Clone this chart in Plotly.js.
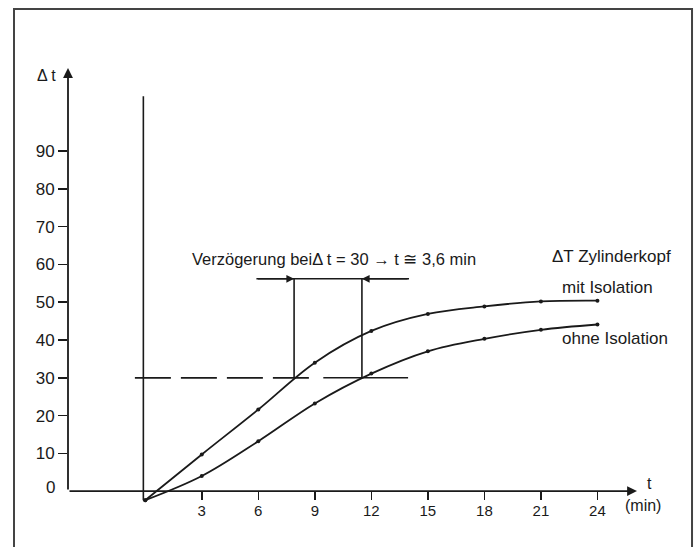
<!DOCTYPE html>
<html>
<head>
<meta charset="utf-8">
<script src="https://cdn.plot.ly/plotly-3.0.1.min.js"></script>
<style>html,body{margin:0;padding:0;background:#fff;}#chart{width:697px;height:547px;}</style>
</head>
<body>
<div id="chart"></div>
<script>
// ---- data ----
const timeMin = [0, 3, 6, 9, 12, 15, 18, 21, 24];
const mitIsolation = [-2.4, 9.7, 21.6, 34.0, 42.4, 46.9, 48.9, 50.2, 50.4];
const ohneIsolation = [-2.4, 4.0, 13.2, 23.2, 31.1, 37.0, 40.3, 42.7, 44.1];

const xTickVals = [3, 6, 9, 12, 15, 18, 21, 24];
const xTickText = ['3', '6', '9', '12', '15', '18', '21', '24'];
const yTickVals = [10, 20, 30, 40, 50, 60, 70, 80, 90];
const yTickText = ['10', '20', '30', '40', '50', '60', '70', '80', '90'];

const startLineT = -0.1;        // vertical reference line at start
const startLineY = [-2.4, 104.5];
const delayLevel = 30;          // Δt = 30
const delayT = [7.9, 11.5];     // crossing times mit / ohne
const delayBarY = 56.2;         // level of the arrow bar
const delayBarT = [5.9, 14.0];
const dashedT = [-0.55, 8.85];
const solidT = [9.45, 13.95];

const xRange = [-4.1, 26.1];
const yRange = [-5, 112];

const ink = '#1a1a1a';
const fam = 'Liberation Sans, Arial, sans-serif';
const font = {family: fam, size: 16, color: ink};

const traces = [
  {x: timeMin, y: mitIsolation, mode: 'lines+markers', line: {color: ink, width: 1.8, shape: 'spline', smoothing: 1},
   marker: {color: ink, size: 4}, name: 'mit Isolation', hoverinfo: 'skip'},
  {x: timeMin, y: ohneIsolation, mode: 'lines+markers', line: {color: ink, width: 1.8, shape: 'spline', smoothing: 1},
   marker: {color: ink, size: 4}, name: 'ohne Isolation', hoverinfo: 'skip'},
  {x: [startLineT, startLineT], y: startLineY, mode: 'lines', line: {color: ink, width: 1.6}, hoverinfo: 'skip'},
  {x: dashedT, y: [delayLevel, delayLevel], mode: 'lines', line: {color: ink, width: 1.8, dash: '36px,10px'}, hoverinfo: 'skip'},
  {x: solidT, y: [delayLevel, delayLevel], mode: 'lines', line: {color: ink, width: 1.6}, hoverinfo: 'skip'},
  {x: [delayT[0], delayT[0]], y: [delayLevel, delayBarY], mode: 'lines', line: {color: ink, width: 1.6}, hoverinfo: 'skip'},
  {x: [delayT[1], delayT[1]], y: [delayLevel, delayBarY], mode: 'lines', line: {color: ink, width: 1.6}, hoverinfo: 'skip'},
  {x: delayBarT, y: [delayBarY, delayBarY], mode: 'lines', line: {color: ink, width: 1.4}, hoverinfo: 'skip'}
];

function arrow(x, y, ax, ay, w) {
  return {x: x, y: y, ax: ax, ay: ay, xref: 'x', yref: 'y', axref: 'x', ayref: 'y', text: '',
          showarrow: true, arrowhead: 2, arrowsize: 1.1, arrowwidth: w, arrowcolor: ink};
}
function label(text, x, y, xanchor, size) {
  return {x: x, y: y, xref: 'x', yref: 'y', text: text, showarrow: false, xanchor: xanchor, yanchor: 'middle',
          font: {family: fam, size: size, color: ink}};
}
function plabel(text, x, y, xanchor, size) {
  return {x: x, y: y, xref: 'paper', yref: 'paper', text: text, showarrow: false, xanchor: xanchor, yanchor: 'middle',
          font: {family: fam, size: size, color: ink}};
}

const annotations = [
  arrow(xRange[1], 0, xRange[0], 0, 1.8),
  arrow(xRange[0], yRange[1], xRange[0], 0, 1.8),
  arrow(delayT[0], delayBarY, delayBarT[0], delayBarY, 1.4),
  arrow(delayT[1], delayBarY, delayBarT[1], delayBarY, 1.4),
  label('Verzögerung bei\u0394 t = 30 \u2192 t \u2245 3,6 min', 2.4, 61.5, 'left', 16.5),
  label('\u0394T Zylinderkopf', 21.5, 62.0, 'left', 17),
  label('mit Isolation', 22.0, 53.8, 'left', 17),
  label('ohne Isolation', 22.0, 40.4, 'left', 17),
  plabel('t', 1.0228, 0.060, 'center', 16),
  plabel('(min)', 1.0105, 0.010, 'center', 16),
  plabel('\u0394 t', -0.0378, 0.984, 'center', 16),
  plabel('0', -0.0193, 0.052, 'right', 17)
];

const layout = {
  width: 697, height: 547,
  margin: {l: 68, r: 60, t: 68, b: 37, pad: 0},
  paper_bgcolor: '#ffffff', plot_bgcolor: '#ffffff',
  showlegend: false,
  font: font,
  xaxis: {range: xRange, showgrid: false, zeroline: false, showline: false,
          tickvals: xTickVals, ticktext: xTickText, ticks: 'outside', ticklen: 8, tickwidth: 1.5, tickcolor: ink,
          anchor: 'free', position: (0 - yRange[0]) / (yRange[1] - yRange[0]),
          tickfont: {family: fam, size: 15, color: ink}, ticklabelstandoff: -2, fixedrange: true},
  yaxis: {range: yRange, showgrid: false, zeroline: false, showline: false,
          tickvals: yTickVals, ticktext: yTickText, ticks: 'outside', ticklen: 9, tickwidth: 1.5, tickcolor: ink,
          tickfont: {family: fam, size: 17, color: ink}, fixedrange: true},
  shapes: [
    {type: 'rect', xref: 'paper', yref: 'paper', x0: -0.0949, x1: 1.0967, y0: -0.1, y1: 1.1335,
     line: {color: '#444', width: 2}}
  ],
  annotations: annotations
};

Plotly.newPlot('chart', traces, layout, {staticPlot: true, displayModeBar: false});
</script>
</body>
</html>
